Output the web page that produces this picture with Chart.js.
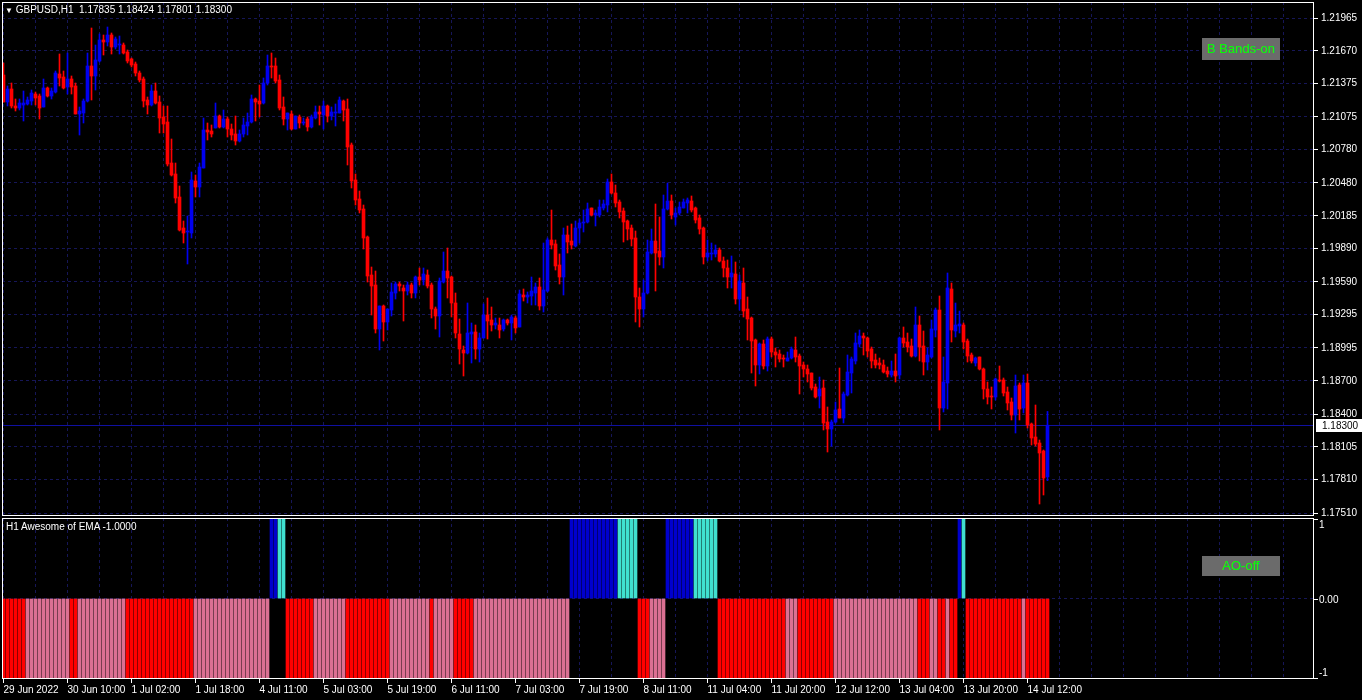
<!DOCTYPE html>
<html>
<head>
<meta charset="utf-8">
<script src="https://cdn.jsdelivr.net/npm/chart.js@4.4.1/dist/chart.umd.min.js"></script>
<style>
  html, body { margin: 0; padding: 0; background: #000; overflow: hidden; }
  #wrap { position: relative; width: 1362px; height: 700px; font-family: "Liberation Sans", Arial, sans-serif; }
  canvas { position: absolute; left: 0; }
  #main { top: 0; }
  #ao { top: 516px; }
  .txt { position: absolute; color: #fff; font-size: 10px; white-space: pre; }
  .btn { position: absolute; background: #6b6b6b; color: #00ff00; font-size: 13px; text-align: center; }
</style>
</head>
<body>
<div id="wrap">
  <canvas id="main" width="1362" height="517"></canvas>
  <canvas id="ao" width="1362" height="184"></canvas>
  <div class="txt" style="left:5px;top:4px;"><span style="font-size:8px;">&#9660;</span> GBPUSD,H1  1.17835 1.18424 1.17801 1.18300</div>
  <div class="btn" style="left:1202px;top:38px;width:78px;height:22px;line-height:22px;">B Bands-on</div>
  <div class="txt" style="left:6px;top:521px;">H1 Awesome of EMA -1.0000</div>
  <div class="btn" style="left:1202px;top:556px;width:78px;height:20px;line-height:20px;">AO-off</div>
</div>
<script>
// GBPUSD H1, 29 Jun - 14 Jul 2022, one entry per hourly bar
const opens = [
  1.21452,1.21209,1.21326,1.21173,1.21155,1.21182,1.21191,1.21218,1.21281,1.21263,
  1.21164,1.21335,1.21263,1.21299,1.21461,1.21434,1.21344,1.21416,1.21353,1.21101,
  1.21110,1.21218,1.21533,1.21443,1.21578,1.21767,1.21749,1.21812,1.21704,1.21722,
  1.21722,1.21659,1.21596,1.21551,1.21470,1.21416,1.21227,1.21182,1.21308,1.21209,
  1.21074,1.21029,1.20660,1.20561,1.20354,1.20075,1.20039,1.20030,1.20498,1.20444,
  1.20615,1.20957,1.20948,1.20975,1.21083,1.20984,1.21056,1.20966,1.20921,1.20858,
  1.20921,1.20993,1.21029,1.21236,1.21218,1.21200,1.21380,1.21533,1.21533,1.21407,
  1.21164,1.21056,1.21101,1.20966,1.21074,1.21020,1.21056,1.20984,1.21065,1.21119,
  1.21092,1.21173,1.21083,1.21110,1.21110,1.21218,1.21146,1.20822,1.20507,1.20336,
  1.20246,1.19994,1.19652,1.19562,1.19166,1.19373,1.19229,1.19337,1.19490,1.19571,
  1.19535,1.19508,1.19562,1.19490,1.19634,1.19607,1.19652,1.19562,1.19346,1.19283,
  1.19589,1.19688,1.19634,1.19400,1.19121,1.18977,1.18950,1.19121,1.19139,1.18986,
  1.19085,1.19292,1.19247,1.19202,1.19202,1.19166,1.19247,1.19220,1.19265,1.19184,
  1.19472,1.19454,1.19463,1.19490,1.19544,1.19373,1.19508,1.19967,1.19931,1.19742,
  1.19634,1.20012,1.19958,1.19913,1.20075,1.20120,1.20129,1.20255,1.20192,1.20192,
  1.20255,1.20282,1.20489,1.20390,1.20309,1.20228,1.20138,1.20075,1.19985,1.19454,
  1.19346,1.19490,1.19850,1.19958,1.19868,1.19814,1.20246,1.20318,1.20174,1.20210,
  1.20255,1.20300,1.20318,1.20255,1.20165,1.20075,1.19814,1.19841,1.19841,1.19877,
  1.19778,1.19715,1.19634,1.19661,1.19436,1.19580,1.19346,1.19265,1.19067,1.18842,
  1.19031,1.18833,1.19076,1.18959,1.18941,1.18905,1.18878,1.18905,1.18977,1.18923,
  1.18842,1.18806,1.18770,1.18644,1.18563,1.18635,1.18329,1.18266,1.18329,1.18446,
  1.18365,1.18572,1.18770,1.18878,1.19031,1.19103,1.19085,1.18986,1.18887,1.18860,
  1.18842,1.18788,1.18752,1.18788,1.18752,1.19085,1.19049,1.19013,1.18923,1.19202,
  1.19013,1.18869,1.18914,1.19157,1.19337,1.18455,1.18680,1.19526,1.19148,1.19193,
  1.19202,1.19058,1.18932,1.18860,1.18914,1.18806,1.18626,1.18563,1.18554,1.18707,
  1.18707,1.18599,1.18509,1.18392,1.18662,1.18455,1.18680,1.18311,1.18194,1.18140,
  1.18068,1.17835
];
const highs = [
  1.21560,1.21353,1.21380,1.21236,1.21236,1.21308,1.21254,1.21317,1.21299,1.21281,
  1.21416,1.21344,1.21335,1.21488,1.21641,1.21488,1.21650,1.21443,1.21380,1.21164,
  1.21236,1.21650,1.21875,1.21722,1.21821,1.21812,1.21884,1.21830,1.21794,1.21803,
  1.21740,1.21677,1.21605,1.21569,1.21488,1.21434,1.21254,1.21362,1.21380,1.21263,
  1.21173,1.21173,1.20876,1.20660,1.20453,1.20138,1.20183,1.20579,1.20552,1.20660,
  1.21065,1.21020,1.21002,1.21200,1.21092,1.21137,1.21074,1.21011,1.21083,1.20957,
  1.21065,1.21110,1.21272,1.21245,1.21362,1.21425,1.21632,1.21650,1.21605,1.21452,
  1.21254,1.21110,1.21128,1.21083,1.21092,1.21065,1.21074,1.21092,1.21173,1.21173,
  1.21218,1.21182,1.21164,1.21191,1.21254,1.21227,1.21236,1.20840,1.20561,1.20408,
  1.20282,1.20003,1.19724,1.19688,1.19373,1.19382,1.19346,1.19580,1.19589,1.19589,
  1.19562,1.19589,1.19580,1.19643,1.19715,1.19715,1.19697,1.19580,1.19364,1.19625,
  1.19859,1.19895,1.19643,1.19490,1.19256,1.19013,1.19400,1.19220,1.19202,1.19130,
  1.19391,1.19445,1.19364,1.19265,1.19265,1.19256,1.19256,1.19292,1.19283,1.19517,
  1.19526,1.19499,1.19634,1.19580,1.19625,1.19940,1.19985,1.20237,1.19967,1.19841,
  1.20075,1.20093,1.20111,1.20138,1.20156,1.20237,1.20300,1.20255,1.20237,1.20327,
  1.20327,1.20516,1.20561,1.20462,1.20327,1.20255,1.20147,1.20102,1.20048,1.19535,
  1.19607,1.19967,1.20066,1.20291,1.20174,1.20372,1.20480,1.20372,1.20255,1.20309,
  1.20336,1.20345,1.20363,1.20264,1.20192,1.20084,1.19967,1.19940,1.19922,1.19895,
  1.19814,1.19787,1.19823,1.19769,1.19652,1.19715,1.19454,1.19274,1.19076,1.19040,
  1.19067,1.19094,1.19094,1.18995,1.18977,1.18932,1.18959,1.19004,1.19094,1.18941,
  1.18869,1.18842,1.18770,1.18671,1.18734,1.18707,1.18464,1.18347,1.18509,1.18815,
  1.18599,1.18932,1.18914,1.19130,1.19157,1.19130,1.19094,1.19004,1.18941,1.18905,
  1.18887,1.18824,1.18878,1.18941,1.19094,1.19184,1.19130,1.19076,1.19364,1.19283,
  1.19148,1.18995,1.19247,1.19355,1.19463,1.18914,1.19670,1.19580,1.19400,1.19328,
  1.19220,1.19076,1.18950,1.18914,1.18914,1.18815,1.18689,1.18644,1.18725,1.18833,
  1.18725,1.18644,1.18545,1.18752,1.18680,1.18752,1.18761,1.18320,1.18482,1.18167,
  1.18077,1.18424
];
const lows = [
  1.21209,1.21173,1.21155,1.21128,1.21137,1.21038,1.21182,1.21182,1.21182,1.21056,
  1.21164,1.21254,1.21236,1.21290,1.21353,1.21326,1.21281,1.21281,1.21101,1.20912,
  1.21020,1.21209,1.21227,1.21317,1.21569,1.21632,1.21713,1.21641,1.21686,1.21641,
  1.21641,1.21560,1.21524,1.21443,1.21389,1.21164,1.21101,1.21173,1.21191,1.20930,
  1.20930,1.20633,1.20543,1.20300,1.20048,1.19940,1.19751,1.19985,1.20354,1.20354,
  1.20615,1.20867,1.20894,1.20975,1.20975,1.20975,1.20894,1.20867,1.20822,1.20849,
  1.20894,1.20912,1.21020,1.21038,1.21074,1.21191,1.21362,1.21425,1.21380,1.21137,
  1.21002,1.20957,1.20957,1.20966,1.20975,1.21002,1.20948,1.20975,1.21056,1.21002,
  1.20966,1.21029,1.21047,1.20993,1.21110,1.21038,1.20642,1.20435,1.20282,1.20210,
  1.19886,1.19589,1.19292,1.19130,1.18977,1.19058,1.19157,1.19283,1.19436,1.19508,
  1.19238,1.19472,1.19445,1.19445,1.19562,1.19562,1.19535,1.19265,1.19166,1.19094,
  1.19580,1.19445,1.19274,1.19085,1.18851,1.18743,1.18941,1.18860,1.18896,1.18869,
  1.19085,1.19076,1.19148,1.19166,1.19085,1.19148,1.19202,1.19067,1.19130,1.19184,
  1.19418,1.19400,1.19382,1.19382,1.19337,1.19319,1.19499,1.19886,1.19697,1.19571,
  1.19472,1.19850,1.19886,1.19904,1.19940,1.20039,1.20120,1.20183,1.20093,1.20174,
  1.20237,1.20219,1.20381,1.20264,1.20165,1.19949,1.19967,1.19913,1.19229,1.19184,
  1.19274,1.19481,1.19841,1.19508,1.19742,1.19715,1.20237,1.20156,1.20102,1.20192,
  1.20255,1.20210,1.20219,1.20120,1.20021,1.19751,1.19778,1.19787,1.19814,1.19769,
  1.19634,1.19535,1.19535,1.19391,1.19337,1.19274,1.19067,1.18770,1.18653,1.18761,
  1.18806,1.18788,1.18914,1.18824,1.18869,1.18824,1.18878,1.18896,1.18869,1.18581,
  1.18734,1.18689,1.18617,1.18545,1.18455,1.18257,1.18059,1.18113,1.18320,1.18365,
  1.18320,1.18563,1.18590,1.18851,1.19004,1.18932,1.18914,1.18815,1.18815,1.18806,
  1.18770,1.18734,1.18734,1.18689,1.18716,1.19004,1.18959,1.18914,1.18914,1.18878,
  1.18752,1.18797,1.18905,1.19094,1.18257,1.18419,1.18446,1.19049,1.19094,1.19130,
  1.18986,1.18869,1.18860,1.18833,1.18797,1.18536,1.18491,1.18446,1.18527,1.18689,
  1.18563,1.18437,1.18347,1.18230,1.18347,1.18410,1.18275,1.18122,1.18113,1.17591,
  1.17672,1.17801
];
const closes = [
  1.21209,1.21326,1.21173,1.21155,1.21200,1.21200,1.21227,1.21290,1.21245,1.21155,
  1.21335,1.21263,1.21308,1.21470,1.21425,1.21335,1.21416,1.21344,1.21101,1.21128,
  1.21218,1.21533,1.21443,1.21587,1.21767,1.21749,1.21812,1.21704,1.21776,1.21731,
  1.21650,1.21578,1.21542,1.21470,1.21407,1.21218,1.21182,1.21308,1.21200,1.21065,
  1.21011,1.20651,1.20552,1.20345,1.20057,1.20030,1.20048,1.20507,1.20444,1.20624,
  1.20957,1.20939,1.20921,1.21083,1.20984,1.21056,1.20966,1.20912,1.20858,1.20921,
  1.21002,1.21029,1.21236,1.21209,1.21191,1.21380,1.21533,1.21524,1.21398,1.21155,
  1.21056,1.21110,1.20966,1.21083,1.21020,1.21029,1.20984,1.21074,1.21119,1.21101,
  1.21173,1.21083,1.21119,1.21119,1.21227,1.21137,1.20804,1.20498,1.20327,1.20237,
  1.19985,1.19643,1.19553,1.19166,1.19373,1.19229,1.19346,1.19499,1.19571,1.19553,
  1.19508,1.19562,1.19490,1.19634,1.19607,1.19661,1.19553,1.19346,1.19283,1.19598,
  1.19688,1.19625,1.19400,1.19130,1.18986,1.18950,1.19130,1.19139,1.18986,1.19085,
  1.19292,1.19238,1.19202,1.19220,1.19157,1.19247,1.19220,1.19274,1.19175,1.19481,
  1.19454,1.19472,1.19508,1.19544,1.19373,1.19517,1.19967,1.19922,1.19733,1.19634,
  1.20012,1.19949,1.19922,1.20075,1.20120,1.20129,1.20246,1.20192,1.20210,1.20264,
  1.20291,1.20489,1.20390,1.20300,1.20219,1.20129,1.20066,1.19976,1.19454,1.19346,
  1.19490,1.19859,1.19958,1.19850,1.19814,1.20246,1.20318,1.20192,1.20210,1.20264,
  1.20309,1.20327,1.20237,1.20147,1.20066,1.19814,1.19850,1.19850,1.19877,1.19778,
  1.19715,1.19634,1.19670,1.19436,1.19598,1.19328,1.19256,1.19058,1.18842,1.19031,
  1.18833,1.19076,1.18959,1.18932,1.18896,1.18896,1.18905,1.18986,1.18914,1.18833,
  1.18806,1.18761,1.18635,1.18554,1.18626,1.18320,1.18266,1.18329,1.18437,1.18365,
  1.18581,1.18779,1.18896,1.19040,1.19103,1.19085,1.18968,1.18878,1.18842,1.18842,
  1.18779,1.18761,1.18788,1.18743,1.19085,1.19040,1.19004,1.18923,1.19202,1.19004,
  1.18869,1.18932,1.19166,1.19337,1.18455,1.18689,1.19535,1.19157,1.19202,1.19211,
  1.19049,1.18923,1.18878,1.18905,1.18806,1.18626,1.18554,1.18554,1.18716,1.18698,
  1.18590,1.18500,1.18392,1.18653,1.18446,1.18680,1.18302,1.18185,1.18131,1.18050,
  1.17825,1.18300
];

// price scale labels as printed by the terminal
const priceTicks = [1.21965,1.21670,1.21375,1.21075,1.20780,1.20480,1.20185,1.19890,
  1.19590,1.19295,1.18995,1.18700,1.18400,1.18105,1.17810,1.17510];

// time labels, one every 16 bars
const timeLabels = ['29 Jun 2022','30 Jun 10:00','1 Jul 02:00','1 Jul 18:00','4 Jul 11:00',
  '5 Jul 03:00','5 Jul 19:00','6 Jul 11:00','7 Jul 03:00','7 Jul 19:00','8 Jul 11:00',
  '11 Jul 04:00','11 Jul 20:00','12 Jul 12:00','13 Jul 04:00','13 Jul 20:00','14 Jul 12:00'];

// Awesome of EMA: sign (+1/-1) and colour code per bar
// B = above zero rising, C = above zero falling, R = below zero falling, P = below zero rising
const aoValues = [
  -1,-1,-1,-1,-1,-1,-1,-1,-1,-1,-1,-1,-1,-1,-1,-1,-1,-1,-1,-1,
  -1,-1,-1,-1,-1,-1,-1,-1,-1,-1,-1,-1,-1,-1,-1,-1,-1,-1,-1,-1,
  -1,-1,-1,-1,-1,-1,-1,-1,-1,-1,-1,-1,-1,-1,-1,-1,-1,-1,-1,-1,
  -1,-1,-1,-1,-1,-1,-1, 1, 1, 1, 1,-1,-1,-1,-1,-1,-1,-1,-1,-1,
  -1,-1,-1,-1,-1,-1,-1,-1,-1,-1,-1,-1,-1,-1,-1,-1,-1,-1,-1,-1,
  -1,-1,-1,-1,-1,-1,-1,-1,-1,-1,-1,-1,-1,-1,-1,-1,-1,-1,-1,-1,
  -1,-1,-1,-1,-1,-1,-1,-1,-1,-1,-1,-1,-1,-1,-1,-1,-1,-1,-1,-1,
  -1,-1, 1, 1, 1, 1, 1, 1, 1, 1, 1, 1, 1, 1, 1, 1, 1, 1, 1,-1,
  -1,-1,-1,-1,-1,-1, 1, 1, 1, 1, 1, 1, 1, 1, 1, 1, 1, 1, 1,-1,
  -1,-1,-1,-1,-1,-1,-1,-1,-1,-1,-1,-1,-1,-1,-1,-1,-1,-1,-1,-1,
  -1,-1,-1,-1,-1,-1,-1,-1,-1,-1,-1,-1,-1,-1,-1,-1,-1,-1,-1,-1,
  -1,-1,-1,-1,-1,-1,-1,-1,-1,-1,-1,-1,-1,-1,-1,-1,-1,-1,-1, 1,
   1,-1,-1,-1,-1,-1,-1,-1,-1,-1,-1,-1,-1,-1,-1,-1,-1,-1,-1,-1,
  -1,-1
];
const aoCodes = [
  'RRRRRRPPPPPPPPPPPRRPPPPPPPPPPPPRRRRRRRRRRRRRRRRR', // 0-47
  'PPPPPPPPPPPPPPPPPPPBBCCRRRRRRRPPPPPPPPRRRRRRRRRRR', // 48-96
  'PPPPPPPPPPRPPPPPRRRRRPPPPPPPPPPPPPPPPPPPPPPPP',     // 97-141
  'BBBBBBBBBBBBCCCCCRRRPPPPBBBBBBBCCCCCC',             // 142-178
  'RRRRRRRRRRRRRRRRRPPPRRRRRRRRRPPPPPPPPPPPPPPPPPPPPPRRRPPRRPRR', // 179-238
  'BCRRRRRRRRRRRRRRPRRRRRR'                            // 239-261
].join('').split('');

const BULL = '#0000f0';
const BEAR = '#ff0000';
const GRID = '#161658';
const aoPalette = { B: '#0000cd', C: '#40e0d0', R: '#ff0000', P: '#db7093' };

const X_MIN = -0.375, X_MAX = 327.625;
const FONT = { family: 'Liberation Sans, Arial, sans-serif', size: 10 };

const candleColors = opens.map((o, i) => closes[i] >= o ? BULL : BEAR);
const bodies = opens.map((o, i) => ({ x: i, y: [o, closes[i]] }));
const wicks = lows.map((l, i) => ({ x: i, y: [l, highs[i]] }));

function xTicks(scale) {
  const t = [];
  for (let v = 0; v <= X_MAX; v += 8) t.push({ value: v });
  scale.ticks = t;
}

const mainDecor = {
  id: 'mainDecor',
  beforeDatasetsDraw(chart) {
    const { ctx, chartArea: a, scales: { y } } = chart;
    const py = Math.round(y.getPixelForValue(closes[closes.length - 1])) + 0.5;
    ctx.save();
    ctx.strokeStyle = '#1010a0';
    ctx.lineWidth = 1;
    ctx.beginPath();
    ctx.moveTo(a.left, py);
    ctx.lineTo(a.right, py);
    ctx.stroke();
    ctx.restore();
  },
  afterDraw(chart) {
    const { ctx, chartArea: a, scales: { y } } = chart;
    ctx.save();
    ctx.strokeStyle = '#ffffff';
    ctx.lineWidth = 1;
    ctx.strokeRect(a.left + 0.5, a.top + 0.5, a.right - a.left - 1, a.bottom - a.top - 1);
    const last = closes[closes.length - 1];
    const py = Math.round(y.getPixelForValue(last));
    ctx.fillStyle = '#ffffff';
    ctx.fillRect(a.right + 2, py - 6, 46, 13);
    ctx.fillStyle = '#000000';
    ctx.font = '10px Liberation Sans, Arial, sans-serif';
    ctx.textBaseline = 'middle';
    ctx.fillText(last.toFixed(5), a.right + 8, py + 1);
    ctx.restore();
  }
};

new Chart(document.getElementById('main'), {
  type: 'bar',
  data: {
    datasets: [
      { data: wicks, backgroundColor: candleColors, barThickness: 1, grouped: false, minBarLength: 1, borderWidth: 0 },
      { data: bodies, backgroundColor: candleColors, barThickness: 3, grouped: false, minBarLength: 1, borderWidth: 0 }
    ]
  },
  options: {
    responsive: false,
    animation: false,
    events: [],
    layout: { padding: { left: 2, top: 2, right: 0, bottom: 1 } },
    plugins: { legend: { display: false }, tooltip: { enabled: false } },
    scales: {
      x: {
        type: 'linear', min: X_MIN, max: X_MAX, offset: false,
        afterBuildTicks: xTicks,
        afterFit: s => { s.height = 0; s.paddingLeft = 0; s.paddingRight = 0; },
        ticks: { display: false },
        grid: { color: GRID, drawTicks: false, offset: false },
        border: { display: false, dash: [3, 3] }
      },
      y: {
        type: 'linear', position: 'right', min: 1.17483, max: 1.22109, beginAtZero: false,
        afterBuildTicks: s => { s.ticks = priceTicks.map(v => ({ value: v })); },
        afterFit: s => { s.width = 48; s.paddingTop = 0; s.paddingBottom = 0; },
        ticks: { color: '#ffffff', font: FONT, crossAlign: 'near', padding: 3, callback: v => v.toFixed(5) },
        grid: { color: GRID, tickColor: '#ffffff', tickLength: 4 },
        border: { display: false, dash: [3, 3] }
      }
    }
  },
  plugins: [mainDecor]
});

const aoDecor = {
  id: 'aoDecor',
  afterDraw(chart) {
    const { ctx, chartArea: a, scales: { y } } = chart;
    ctx.save();
    ctx.strokeStyle = '#ffffff';
    ctx.lineWidth = 1;
    ctx.strokeRect(a.left + 0.5, a.top + 0.5, a.right - a.left - 1, a.bottom - a.top - 1);
    ctx.fillStyle = '#ffffff';
    ctx.font = '10px Liberation Sans, Arial, sans-serif';
    ctx.textBaseline = 'middle';
    [[1, '1'], [0, '0.00'], [-1, '-1']].forEach(([v, t]) => {
      let py = Math.round(y.getPixelForValue(v));
      ctx.fillRect(a.right, py, 4, 1);
      py = Math.min(Math.max(py, a.top + 6), a.bottom - 7);
      ctx.fillText(t, a.right + 5, py + 1);
    });
    ctx.restore();
  }
};

new Chart(document.getElementById('ao'), {
  type: 'bar',
  data: {
    datasets: [{
      data: aoValues.map((v, i) => ({ x: i, y: v })),
      backgroundColor: aoCodes.map(c => aoPalette[c]),
      barThickness: 3, grouped: false, borderWidth: 0
    }]
  },
  options: {
    responsive: false,
    animation: false,
    events: [],
    layout: { padding: { left: 2, top: 2, right: 0, bottom: 0 } },
    plugins: { legend: { display: false }, tooltip: { enabled: false } },
    scales: {
      x: {
        type: 'linear', min: X_MIN, max: X_MAX, offset: false,
        afterBuildTicks: xTicks,
        afterFit: s => { s.height = 21; s.paddingLeft = 0; s.paddingRight = 0; },
        ticks: {
          color: '#ffffff', font: FONT, align: 'start', autoSkip: false, maxRotation: 0, padding: 1,
          callback: v => (v % 16 === 0 && timeLabels[v / 16]) ? timeLabels[v / 16] : ''
        },
        grid: {
          color: GRID, offset: false, tickLength: 4,
          tickColor: c => (c.tick && c.tick.value % 16 === 0 && c.tick.value / 16 < timeLabels.length) ? '#ffffff' : 'rgba(0,0,0,0)'
        },
        border: { display: false, dash: [3, 3] }
      },
      y: {
        type: 'linear', position: 'right', min: -1.01, max: 1.01, beginAtZero: false,
        afterBuildTicks: s => { s.ticks = [{ value: -1 }, { value: 0 }, { value: 1 }]; },
        afterFit: s => { s.width = 48; s.paddingTop = 0; s.paddingBottom = 0; },
        ticks: { display: false },
        grid: { color: c => (c.tick && c.tick.value === 0) ? GRID : 'rgba(0,0,0,0)', drawTicks: false },
        border: { display: false, dash: [3, 3] }
      }
    }
  },
  plugins: [aoDecor]
});
</script>
</body>
</html>
